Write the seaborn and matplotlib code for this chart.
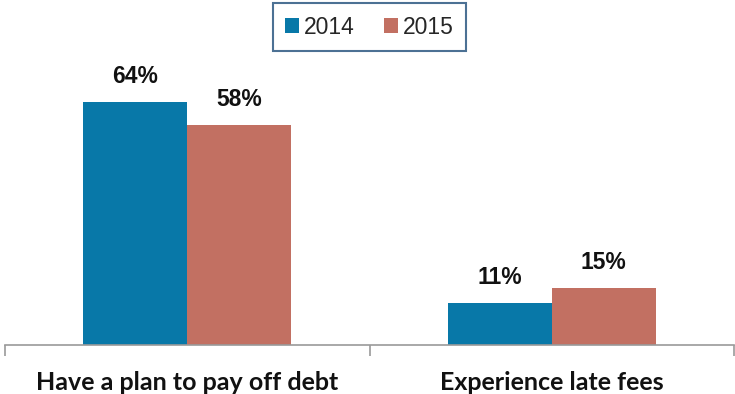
import matplotlib
matplotlib.use("Agg")
import matplotlib.pyplot as plt
import seaborn as sns
import pandas as pd

categories = ["Have a plan to pay off debt", "Experience late fees"]
years = ["2014", "2015"]
values_2014 = [64, 11]
values_2015 = [58, 15]
colors = ["#0878A8", "#C27062"]

df = pd.DataFrame({
    "category": categories * 2,
    "year": [years[0]] * 2 + [years[1]] * 2,
    "value": values_2014 + values_2015,
})

sns.set_theme(style="white")
plt.rcParams["font.family"] = ["Liberation Sans", "DejaVu Sans"]

fig = plt.figure(figsize=(7.35, 3.94), dpi=100)
ax = fig.add_axes([5 / 735, 49 / 394, 729 / 735, 304 / 394])

sns.barplot(data=df, x="category", y="value", hue="year", order=categories,
            hue_order=years, palette=colors, width=0.57, saturation=1,
            edgecolor="none", ax=ax)

for container in ax.containers:
    ax.bar_label(container, labels=[f"{v:.0f}%" for v in container.datavalues],
                 padding=10, fontsize=16.5, fontweight="bold", color="#111111",
                 fontfamily=["Liberation Sans", "DejaVu Sans"])

ax.set_ylim(0, 80)
ax.set_xlim(-0.5, 1.5)
ax.set_xlabel("")
ax.set_ylabel("")
ax.set_yticks([])

for side in ["top", "right", "left"]:
    ax.spines[side].set_visible(False)
ax.spines["bottom"].set_color("#9a9a9a")
ax.spines["bottom"].set_linewidth(1.2)

ax.set_xticks([0, 1])
ax.set_xticklabels(categories, fontsize=18, fontweight="bold",
                   fontfamily=["Lato", "DejaVu Sans"], color="#111111")
ax.tick_params(axis="x", which="major", length=0, pad=19)
ax.set_xticks([-0.5, 0.5, 1.5], minor=True)
ax.tick_params(axis="x", which="minor", length=8, width=1.2,
               color="#9a9a9a", direction="out", bottom=True)

leg = ax.legend(loc="upper center", bbox_to_anchor=(0.5, 1.0 + 38 / 304),
                ncol=2, frameon=True, fancybox=False, fontsize=16.5,
                handlelength=0.6, handleheight=0.6, handletextpad=0.2,
                columnspacing=1.3, borderpad=0.55, borderaxespad=0)
leg.get_frame().set_edgecolor("#1F4E79")
leg.get_frame().set_linewidth(1.5)

fig.savefig("out.png", dpi=100)
